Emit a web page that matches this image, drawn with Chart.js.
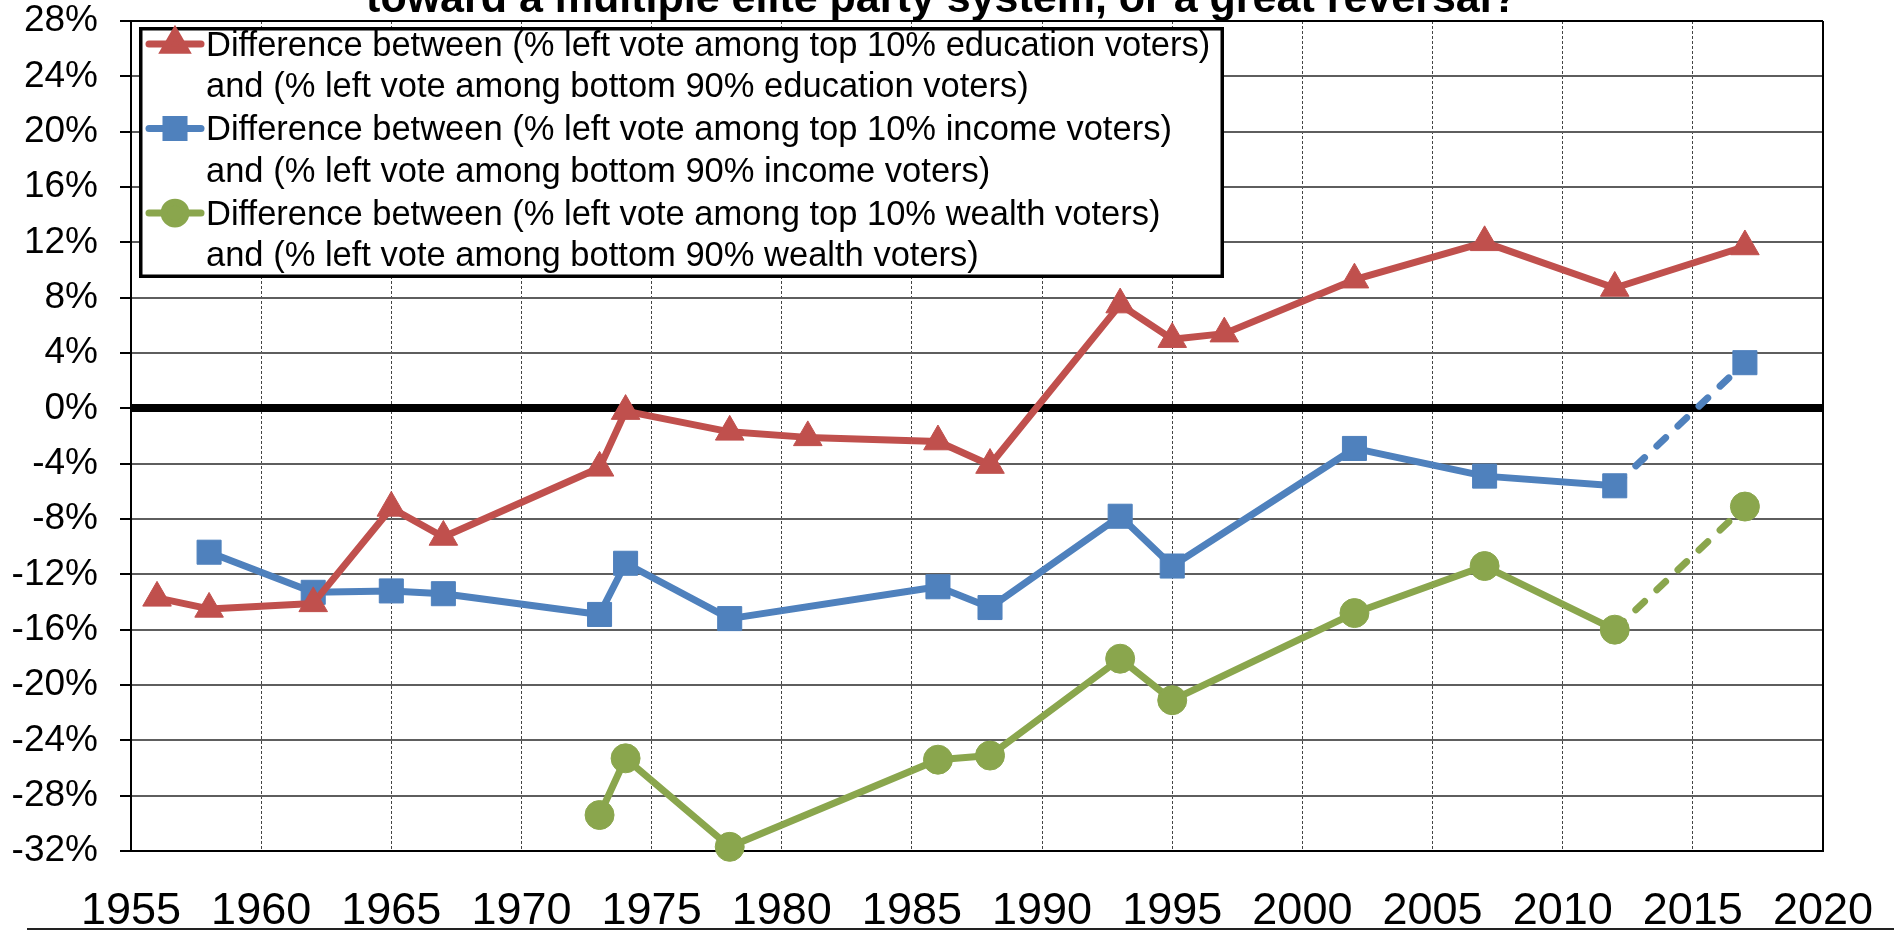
<!DOCTYPE html>
<html lang="en">
<head>
<meta charset="UTF-8">
<title>Left vote gaps by education, income and wealth</title>
<script src="https://cdn.jsdelivr.net/npm/chart.js@4.4.1/dist/chart.umd.min.js"></script>
<style>
  html, body { margin: 0; padding: 0; background: #fff; }
  #wrap { width: 1894px; height: 930px; }
</style>
</head>
<body>
<div id="wrap"><canvas id="gapChart" width="1894" height="930"></canvas></div>
<script>
// ---- data ----
const titleText = 'toward a multiple elite party system, or a great reversal?';

const yearTicks = [1955, 1960, 1965, 1970, 1975, 1980, 1985, 1990, 1995, 2000, 2005, 2010, 2015, 2020];
const pctTicks = [-32, -28, -24, -20, -16, -12, -8, -4, 0, 4, 8, 12, 16, 20, 24, 28];

const educationYears = [1956, 1958, 1962, 1965, 1967, 1973, 1974, 1978, 1981, 1986, 1988, 1993, 1995, 1997, 2002, 2007, 2012, 2017];
const educationGap   = [-13.7, -14.5, -14.1, -7.2, -9.3, -4.3, -0.2, -1.7, -2.1, -2.4, -4.1, 7.5, 5.0, 5.4, 9.3, 12.0, 8.7, 11.7];

const incomeYears = [1958, 1962, 1965, 1967, 1973, 1974, 1978, 1986, 1988, 1993, 1995, 2002, 2007, 2012, 2017];
const incomeGap   = [-10.4, -13.3, -13.2, -13.4, -14.9, -11.2, -15.2, -12.9, -14.4, -7.8, -11.4, -2.9, -4.9, -5.6, 3.3];

const wealthYears = [1973, 1974, 1978, 1986, 1988, 1993, 1995, 2002, 2007, 2012, 2017];
const wealthGap   = [-29.4, -25.3, -31.7, -25.4, -25.1, -18.1, -21.1, -14.8, -11.4, -16.0, -7.1];

// last segment (2012 -> 2017) is drawn dashed for income and wealth
const dashedFrom = 2012;

const legendLines = [
  ['Difference between (% left vote among top 10% education voters)', 'and (% left vote among bottom 90% education voters)'],
  ['Difference between (% left vote among top 10% income voters)', 'and (% left vote among bottom 90% income voters)'],
  ['Difference between (% left vote among top 10% wealth voters)', 'and (% left vote among bottom 90% wealth voters)']
];

const RED = '#C0504D';
const BLUE = '#4F81BD';
const GREEN = '#8AA64D';
const FONT = '"Liberation Sans", Arial, sans-serif';

function toPoints(xs, ys) {
  return xs.map((x, i) => ({ x: x, y: ys[i] }));
}

function dashTail(ctx) {
  return ctx.p0.parsed.x >= dashedFrom ? [12, 17] : undefined;
}

function series(data, color, style, radius, dashed) {
  const ds = {
    data: data,
    borderColor: color,
    backgroundColor: color,
    borderWidth: 7,
    borderCapStyle: 'round',
    borderJoinStyle: 'round',
    pointStyle: style,
    pointRadius: radius,
    pointHoverRadius: radius,
    pointBorderWidth: 1,
    pointBackgroundColor: color,
    pointBorderColor: color,
    tension: 0,
    clip: false
  };
  if (dashed) ds.segment = { borderDash: dashTail };
  return ds;
}

// title, framed legend, right border and the rule under the year labels
const decorations = {
  id: 'decorations',
  afterDraw(chart) {
    const ctx = chart.ctx;
    const area = chart.chartArea;
    ctx.save();

    // right edge of the plot
    ctx.strokeStyle = '#000';
    ctx.lineWidth = 2;
    ctx.beginPath();
    ctx.moveTo(area.right, area.top);
    ctx.lineTo(area.right, area.bottom);
    ctx.stroke();

    // rule at the foot of the figure
    ctx.strokeStyle = '#222';
    ctx.lineWidth = 2;
    ctx.beginPath();
    ctx.moveTo(27, 929);
    ctx.lineTo(1894, 929);
    ctx.stroke();

    // title (its first line sits above the canvas)
    ctx.fillStyle = '#000';
    ctx.font = 'bold 43px ' + FONT;
    ctx.textAlign = 'center';
    ctx.textBaseline = 'alphabetic';
    ctx.fillText(titleText, 942, 12);

    // legend box
    const box = { left: 139, top: 27, right: 1224, bottom: 278 };
    ctx.fillStyle = '#fff';
    ctx.fillRect(box.left, box.top, box.right - box.left, box.bottom - box.top);
    ctx.strokeStyle = '#000';
    ctx.lineWidth = 3.5;
    ctx.strokeRect(box.left + 1.75, box.top + 1.75, box.right - box.left - 3.5, box.bottom - box.top - 3.5);

    ctx.font = '34.5px ' + FONT;
    ctx.textAlign = 'left';
    ctx.textBaseline = 'middle';
    chart.data.datasets.forEach((ds, i) => {
      const rowY = 44 + i * 84.5;
      ctx.strokeStyle = ds.borderColor;
      ctx.lineWidth = 7;
      ctx.lineCap = 'round';
      ctx.beginPath();
      ctx.moveTo(149, rowY);
      ctx.lineTo(201, rowY);
      ctx.stroke();
      ctx.fillStyle = ds.borderColor;
      Chart.helpers.drawPoint(ctx, {
        pointStyle: ds.pointStyle,
        radius: ds.pointRadius * 0.75,
        borderWidth: 1,
        rotation: 0
      }, 175, rowY);
      ctx.fillStyle = '#000';
      legendLines[i].forEach((line, j) => {
        ctx.fillText(line, 206, rowY + 2 + j * 41.5);
      });
    });
    ctx.restore();
  }
};

new Chart(document.getElementById('gapChart'), {
  type: 'line',
  data: {
    datasets: [
      series(toPoints(educationYears, educationGap), RED, 'triangle', 16.5, false),
      series(toPoints(incomeYears, incomeGap), BLUE, 'rect', 17, true),
      series(toPoints(wealthYears, wealthGap), GREEN, 'circle', 14.5, true)
    ]
  },
  options: {
    responsive: false,
    animation: false,
    devicePixelRatio: 1,
    layout: { padding: { top: 21, right: 71, left: 0, bottom: 0 } },
    plugins: {
      legend: { display: false },
      title: { display: false },
      tooltip: { enabled: false }
    },
    scales: {
      x: {
        type: 'linear',
        min: 1955,
        max: 2020,
        afterBuildTicks: s => { s.ticks = yearTicks.map(v => ({ value: v })); },
        afterFit: s => { s.height = 79; s.paddingLeft = 0; s.paddingRight = 0; },
        ticks: {
          autoSkip: false,
          maxRotation: 0,
          padding: 34,
          color: '#000',
          font: { family: FONT, size: 45 },
          callback: v => String(v)
        },
        grid: {
          drawTicks: false,
          color: ctx => (ctx.tick && ctx.tick.value === 2020) ? 'rgba(0,0,0,0)' : '#444',
          lineWidth: 1
        },
        border: { color: '#000', width: 2, dash: [3, 2] }
      },
      y: {
        min: -32,
        max: 28,
        afterBuildTicks: s => { s.ticks = pctTicks.map(v => ({ value: v })); },
        afterFit: s => { s.width = 131; s.paddingTop = 0; s.paddingBottom = 0; },
        ticks: {
          autoSkip: false,
          padding: 22,
          color: '#000',
          font: { family: FONT, size: 37 },
          callback: v => v + '%'
        },
        grid: {
          tickLength: 11,
          tickColor: '#000',
          tickWidth: 2,
          color: ctx => {
            const v = ctx.tick ? ctx.tick.value : null;
            if (v === 0 || v === 28) return '#000';
            return '#5e5e5e';
          },
          lineWidth: ctx => (ctx.tick && ctx.tick.value === 0) ? 8 : 2
        },
        border: { color: '#000', width: 2 }
      }
    }
  },
  plugins: [decorations]
});
</script>
</body>
</html>
